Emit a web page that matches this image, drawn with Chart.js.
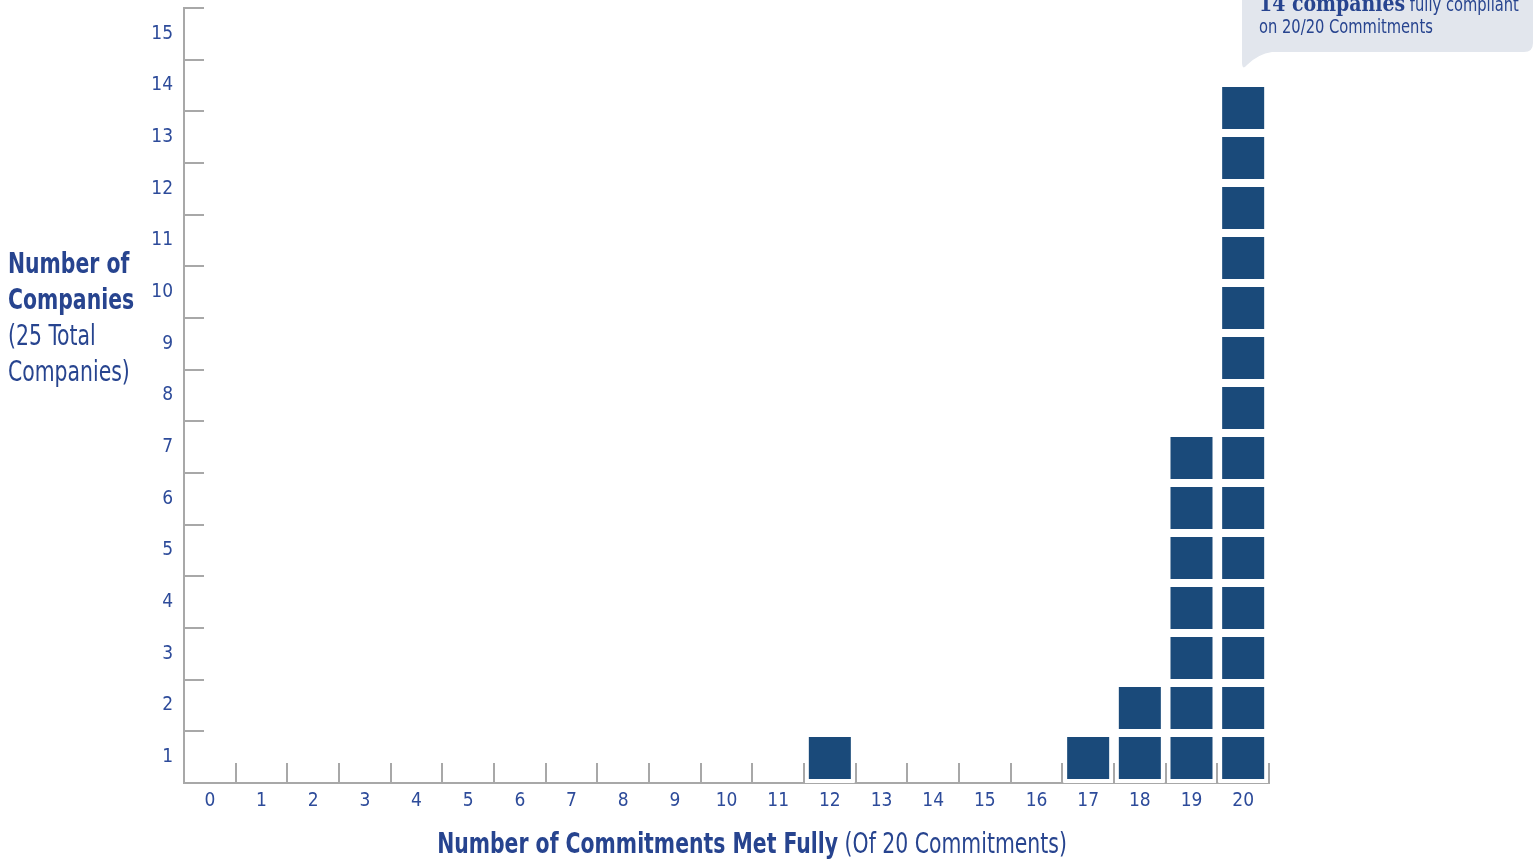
<!DOCTYPE html>
<html>
<head>
<meta charset="utf-8">
<script src="https://cdn.jsdelivr.net/npm/chart.js@4.4.1/dist/chart.umd.min.js"></script>
<style>
body { margin: 0; background: #fff; overflow: hidden; }
#wrap { position: relative; width: 1539px; height: 863px; }
#wrap canvas { position: absolute; left: 0; top: 0; }
.narrow { font-family: 'Liberation Sans Narrow', 'DejaVu Sans Condensed', 'Roboto Condensed', sans-serif; color: #27448f; }
#ytitle { position: absolute; left: 8px; top: 246px; font-size: 28px; line-height: 36px; transform: scaleX(0.81); transform-origin: 0 0; }
#xtitle { position: absolute; left: 0; width: 1504px; top: 826px; text-align: center; font-size: 28px; line-height: 36px; transform: scaleX(0.81); transform-origin: 752px 0; }
#balao { position: absolute; left: 0; top: 0; }
#balaoTexto { position: absolute; left: 1259px; top: -8px; font-size: 19px; line-height: 22px; white-space: nowrap; transform: scaleX(0.86); transform-origin: 0 0; }
#balaoTexto b { font-family: 'DejaVu Serif', 'Liberation Serif', serif; font-size: 22px; }
</style>
</head>
<body>
<div id="wrap">
    <canvas id="graficoCompromissos"></canvas>
    <div id="ytitle" class="narrow"><b>Number of<br>Companies</b><br>(25 Total<br>Companies)</div>
    <div id="xtitle" class="narrow"><b>Number of Commitments Met Fully</b> (Of 20 Commitments)</div>
    <svg id="balao" width="1539" height="120">
        <path d="M1251,-20 H1524 Q1533,-20 1533,-11 V43 Q1533,52 1524,52 H1272 Q1258,54 1247,65 Q1242,71 1242,62 V-11 Q1242,-20 1251,-20 Z" fill="#e2e6ed"/>
    </svg>
    <div id="balaoTexto" class="narrow"><b>14 companies</b> fully compliant<br>on 20/20 Commitments</div>
</div>
<script>
// dados
const commitments = ['0','1','2','3','4','5','6','7','8','9','10','11','12','13','14','15','16','17','18','19','20'];
const companies = [0,0,0,0,0,0,0,0,0,0,0,0,1,0,0,0,0,1,2,7,14];
const yTicks = [1,2,3,4,5,6,7,8,9,10,11,12,13,14,15];

const azul = '#1a4a7a';
const cinza = '#a8a8a8';
const fonte = "'Liberation Sans Narrow', 'DejaVu Sans Condensed', 'Roboto Condensed', sans-serif";

// one dataset per square level
const niveis = Math.max(...companies);
const datasets = [];
for (let n = 1; n <= niveis; n++) {
    datasets.push({
        data: companies.map(c => c >= n ? [n - 1, n] : null),
        backgroundColor: azul,
        borderColor: '#ffffff',
        borderWidth: 4,
        borderSkipped: false,
        grouped: false,
        yAxisID: 'yBars',
        barPercentage: 1,
        categoryPercentage: 0.968
    });
}

// little tick marks pointing into the chart
const marcas = {
    id: 'marcas',
    afterDraw(chart) {
        const ctx = chart.ctx;
        const x = chart.scales.x, y = chart.scales.y;
        const area = chart.chartArea;
        ctx.save();
        ctx.strokeStyle = cinza;
        ctx.lineWidth = 2;
        ctx.beginPath();
        yTicks.forEach(v => {
            const py = Math.round(y.getPixelForValue(v + 0.5));
            ctx.moveTo(area.left, py);
            ctx.lineTo(area.left + 20, py);
        });
        commitments.forEach((c, i) => {
            const px = Math.round(x.getPixelForValue(i + 0.5));
            ctx.moveTo(px, area.bottom);
            ctx.lineTo(px, area.bottom - 20);
        });
        ctx.stroke();
        ctx.restore();
    }
};

new Chart(document.getElementById('graficoCompromissos'), {
    type: 'bar',
    data: {
        labels: commitments,
        datasets: datasets
    },
    options: {
        responsive: true,
        maintainAspectRatio: false,
        animation: false,
        layout: { padding: { top: 8, right: 270, left: 0, bottom: 0 } },
        plugins: { legend: { display: false }, tooltip: { enabled: false } },
        scales: {
            x: {
                z: 1,
                grid: { display: false, drawTicks: false },
                border: { color: cinza, width: 2 },
                ticks: { color: '#2d4b9a', padding: 7, font: { family: fonte, size: 19 }, maxRotation: 0, autoSkip: false },
                afterFit: s => { s.height = 80; s.paddingLeft = 0; s.paddingRight = 0; }
            },
            y: {
                z: 1,
                min: 0.5,
                max: 15.5,
                grid: { display: false, drawTicks: false },
                border: { color: cinza, width: 2 },
                ticks: { color: '#2d4b9a', padding: 11, font: { family: fonte, size: 19 } },
                afterBuildTicks: s => { s.ticks = yTicks.map(v => ({ value: v })); },
                afterFit: s => { s.width = 184; s.paddingTop = 0; s.paddingBottom = 0; }
            },
            yBars: {
                display: false,
                min: 0,
                max: 15.5
            }
        }
    },
    plugins: [marcas]
});
</script>
</body>
</html>
